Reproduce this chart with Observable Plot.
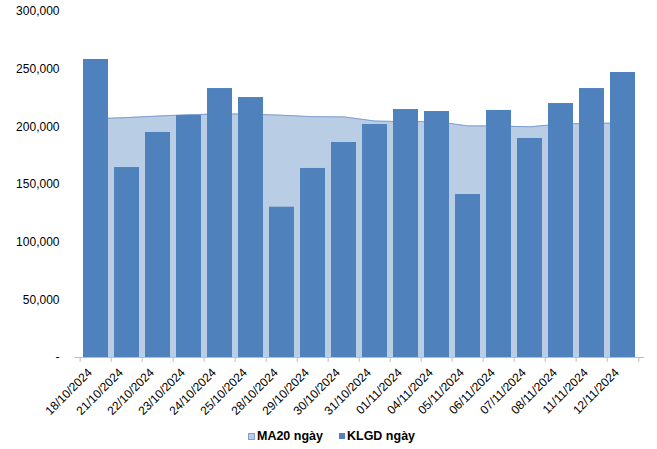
<!DOCTYPE html>
<html><head><meta charset="utf-8">
<script src="https://cdn.jsdelivr.net/npm/d3@7"></script>
<script src="https://cdn.jsdelivr.net/npm/@observablehq/plot@0.6"></script>
<style>
body{margin:0;background:#fff;font-family:"Liberation Sans",Arial,sans-serif;}
#legend{display:flex;justify-content:center;gap:16px;font-weight:bold;font-size:12.5px;height:29px;align-items:center;color:#000;padding-left:6px;padding-top:3px;box-sizing:border-box;}
#legend .it{display:flex;align-items:center;}
#legend .sw{display:inline-block;width:6px;height:6px;margin-right:2px;}
</style></head><body>
<div id="chart"></div>
<div id="legend"></div>
<script>
const dates = ["18/10/2024","21/10/2024","22/10/2024","23/10/2024","24/10/2024","25/10/2024","28/10/2024","29/10/2024","30/10/2024","31/10/2024","01/11/2024","04/11/2024","05/11/2024","06/11/2024","07/11/2024","08/11/2024","11/11/2024","12/11/2024"];
const klgd = [258400,164700,195100,209800,233200,225400,130300,163900,186400,202000,215000,213300,141300,214200,189900,220200,233200,247100];
const ma20 = [207000,208000,209300,210500,211200,211000,210000,208800,208600,205000,204500,204500,200800,200700,200000,202500,203000,203300];
const yTicks = [0,50000,100000,150000,200000,250000,300000];
const seriesNames = ["MA20 ngày","KLGD ngày"];
const colors = ["#B9CDE5","#4F81BD"];

const data = dates.map((d,i)=>({date:d, klgd:klgd[i], ma20:ma20[i]}));
const W=657, H=420, mL=74, mR=13;
const step=(W-mL-mR)/dates.length;
const fmt = d3.format(",");
const chart = Plot.plot({
  width:W, height:H, marginTop:11, marginBottom:63, marginLeft:mL, marginRight:mR,
  style:{fontFamily:'"Liberation Sans",Arial,sans-serif', fontSize:"12px", color:"#000", background:"#fff"},
  x:{domain:dates, paddingInner:0.18, paddingOuter:0.09, label:null},
  y:{domain:[0,300000], label:null},
  marks:[
    Plot.areaY(data,{x:"date", y:"ma20", fill:colors[0]}),
    Plot.lineY(data,{x:"date", y:"ma20", stroke:"#7FA0D0", strokeWidth:1}),
    Plot.barY(data,{x:"date", y:"klgd", fill:colors[1]}),
    Plot.ruleY([0],{stroke:"#BFBFBF"}),
    Plot.axisY({ticks:yTicks, tickSize:0, tickPadding:15, tickFormat:d=>d===0?"-":fmt(d), fontSize:12}),
    Plot.axisX({tickSize:5, text:null, dx:-step/2, stroke:"#BFBFBF"}),
    Plot.axisX({ticks:[dates[dates.length-1]], tickSize:5, text:null, dx:step/2, stroke:"#BFBFBF"}),
    Plot.axisX({tickSize:0, tickRotate:-45, tickPadding:13, dx:-6, fontSize:12})
  ]
});
document.getElementById("chart").appendChild(chart);
const lg = document.getElementById("legend");
seriesNames.forEach((n,i)=>{
  const it=document.createElement("span"); it.className="it";
  const sw=document.createElement("span"); sw.className="sw"; sw.style.background=colors[i];
  if(i===0) sw.style.border="1px solid #7FA0D0", sw.style.width="5px", sw.style.height="5px";
  it.appendChild(sw); it.appendChild(document.createTextNode(n)); lg.appendChild(it);
});
</script>
</body></html>
